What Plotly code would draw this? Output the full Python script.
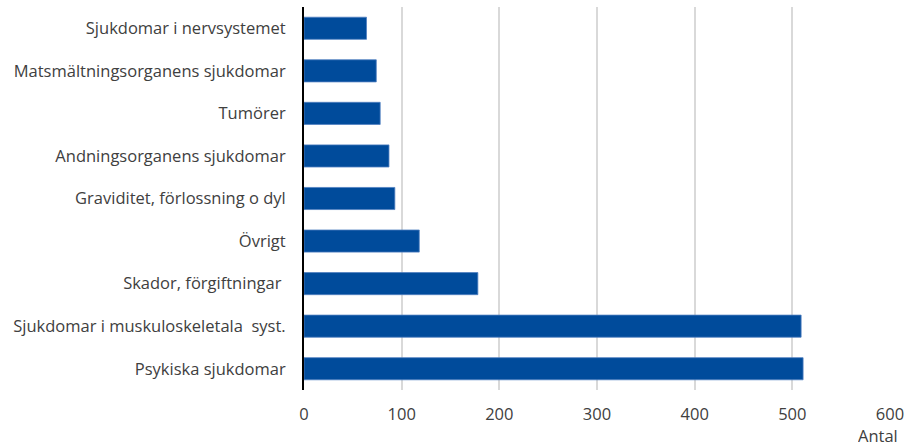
import plotly.graph_objects as go

categories = [
    "Sjukdomar i nervsystemet",
    "Matsmältningsorganens sjukdomar",
    "Tumörer",
    "Andningsorganens sjukdomar",
    "Graviditet, förlossning o dyl",
    "Övrigt",
    "Skador, förgiftningar ",
    "Sjukdomar i muskuloskeletala  syst.",
    "Psykiska sjukdomar",
]
values = [64, 74, 78, 87, 93, 118, 178, 509, 511]
x_ticks = [0, 100, 200, 300, 400, 500, 600]

fig = go.Figure(go.Bar(
    x=values, y=categories, orientation="h",
    marker=dict(color="#004B9B", line=dict(color="#4F7FC0", width=0.8)),
))

font = dict(family="Open Sans, sans-serif", size=16.5, color="#404040")

fig.update_layout(
    width=909, height=445,
    margin=dict(l=304, r=19, t=7, b=55, autoexpand=False),
    plot_bgcolor="white", paper_bgcolor="white",
    bargap=0.48,
    font=font,
    showlegend=False,
    xaxis=dict(
        range=[0, 600], tickvals=x_ticks, showgrid=True,
        gridcolor="#D9D9D9", gridwidth=2, zeroline=False,
        showline=False, ticks="", tickfont=font, automargin=False,
        ticklabelstandoff=12,
    ),
    yaxis=dict(
        autorange="reversed", showline=True, linecolor="black", linewidth=2,
        ticks="", showgrid=False, tickfont=font, ticklabelstandoff=13,
        automargin=False,
    ),
    annotations=[dict(
        text="Antal", x=1, xref="paper", y=-0.118, yref="paper",
        xanchor="right", yanchor="middle", showarrow=False, xshift=10,
        height=16, font=font,
    )],
)

fig.write_html(
    "out.html",
    config={"displayModeBar": False},
    post_script="document.body.style.margin='0px';document.body.style.padding='0px';",
)
